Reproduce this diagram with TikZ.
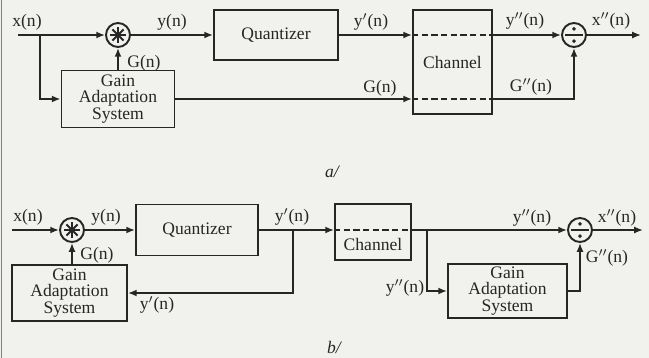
\documentclass[tikz,border=0pt]{standalone}
\usepackage{fontspec}
\setmainfont{Liberation Serif}
\usepackage{tikz}
\usetikzlibrary{arrows.meta,positioning,calc}
\definecolor{ink}{HTML}{262626}
\definecolor{paper}{HTML}{F1F1ED}
\tikzset{
  wire/.style={line width=1pt,draw=ink},
  sig/.style={wire,-{Latex[length=5pt,width=4pt]}},
  chanline/.style={wire,dash pattern=on 3.5pt off 2pt},
  blk/.style={draw=ink,line width=1.1pt,rectangle,inner sep=0pt,text=ink,align=center,
    font=\fontsize{10}{9.5}\selectfont},
  op/.style={draw=ink,line width=1.1pt,circle,minimum size=0.48cm,inner sep=0pt},
  lbl/.style={font=\fontsize{10}{10}\selectfont,inner sep=1pt,text=ink},
}
% multiplier: asterisk inside the circle
\newcommand{\mulsign}[1]{%
  \foreach \ang in {0,45,90,135}
    \draw[line width=1.2pt,ink] ($(#1)+(\ang:4.5pt)$) -- ($(#1)+(\ang+180:4.5pt)$);}
% divider: obelus inside the circle
\newcommand{\divsign}[1]{%
  \draw[line width=0.9pt,ink] ($(#1)+(-5pt,0)$) -- ($(#1)+(5pt,0)$);
  \fill[ink] ($(#1)+(0,3.5pt)$) circle (1.1pt) ($(#1)+(0,-3.5pt)$) circle (1.1pt);}

\begin{document}
\begin{tikzpicture}[x=0.02cm,y=-0.02cm]
  \fill[paper] (0,0) rectangle (649,358);
  \useasboundingbox (0,0) rectangle (649,358);
  \draw[line width=0.8pt,gray] (1.5,0) -- (1.5,358);

  % a/ : gain sent over the channel
  \node[op] (mula) at (118,35) {};
  \mulsign{mula}
  \node[blk,minimum width=2.48cm,minimum height=1cm] (qa) at (276,35) {Quantizer};
  \node[blk,minimum width=2.26cm,minimum height=1.14cm] (gasa) at (118,99) {Gain\\Adaptation\\System};
  \node[blk,minimum width=1.58cm,minimum height=2.08cm] (cha) at (452.5,62) {Channel};
  \node[op] (diva) at (574,35) {};
  \divsign{diva}
  \coordinate (ina) at (18,35);
  \coordinate (tapa) at (40,35);
  \coordinate (outa) at (641,35);

  \draw[sig] (ina) -- (mula);
  \draw[sig] (tapa) |- (gasa.west);
  \draw[sig] (gasa.north) -- (mula.south);
  \draw[sig] (mula) -- (qa);
  \draw[sig] (qa) -- (qa -| cha.west);
  \draw[sig] (gasa.east) -- (gasa.east -| cha.west);
  \draw[chanline] (qa -| cha.west) -- (qa -| cha.east);
  \draw[chanline] (gasa.east -| cha.west) -- (gasa.east -| cha.east);
  \draw[sig] (qa -| cha.east) -- (diva);
  \draw[sig] (gasa.east -| cha.east) -| (diva.south);
  \draw[sig] (diva) -- (outa);

  \node[lbl] (xa) at (27,22) {x(n)};
  \node[lbl] (ya) at (172,22) {y(n)};
  \node[lbl] (ga) at (144,63) {G(n)};
  \node[lbl] (yqa) at (371,22) {y$'$(n)};
  \node[lbl] (gta) at (380,88) {G(n)};
  \node[lbl] (yca) at (525,21) {y$''$(n)};
  \node[lbl] (xoa) at (611,21) {x$''$(n)};
  \node[lbl] (gca) at (531,87) {G$''$(n)};
  \node[lbl] (capa) at (332,172) {\itshape a/};

  % b/ : gain recomputed on both sides
  \node[op] (mulb) at (72,230) {};
  \mulsign{mulb}
  \node[blk,minimum width=2.44cm,minimum height=1.02cm] (qb) at (197,230) {Quantizer};
  \node[blk,minimum width=2.3cm,minimum height=1.12cm] (gasb) at (69.5,293) {Gain\\Adaptation\\System};
  \node[blk,minimum width=1.52cm,minimum height=1.12cm] (chb) at (373,232) {};
  \node[lbl] (chbt) at (373,244) {Channel};
  \node[op] (divb) at (580,230) {};
  \divsign{divb}
  \node[blk,minimum width=2.38cm,minimum height=1.08cm] (gasr) at (507.5,291) {Gain\\Adaptation\\System};
  \coordinate (inb) at (12,230);
  \coordinate (tapb) at (293,230);
  \coordinate (taprb) at (427,230);
  \coordinate (outb) at (643,230);

  \draw[sig] (inb) -- (mulb);
  \draw[sig] (mulb) -- (qb);
  \draw[sig] (mulb |- gasb.north) -- (mulb.south);
  \draw[sig] (qb) -- (qb -| chb.west);
  \draw[sig] (tapb) |- (gasb.east);
  \draw[chanline] (qb -| chb.west) -- (qb -| chb.east);
  \draw[sig] (qb -| chb.east) -- (divb);
  \draw[sig] (taprb) |- (gasr.west);
  \draw[sig] (gasr.east) -| (divb.south);
  \draw[sig] (divb) -- (outb);

  \node[lbl] (xb) at (28,217) {x(n)};
  \node[lbl] (yb) at (106,217) {y(n)};
  \node[lbl] (gb) at (97,255) {G(n)};
  \node[lbl] (yqb) at (292,217) {y$'$(n)};
  \node[lbl] (yfb) at (157,305) {y$'$(n)};
  \node[lbl] (ycb) at (532,218) {y$''$(n)};
  \node[lbl] (xob) at (617,218) {x$''$(n)};
  \node[lbl] (gcb) at (607,258) {G$''$(n)};
  \node[lbl] (yrb) at (405,288) {y$''$(n)};
  \node[lbl] (capb) at (334,347) {\itshape b/};
\end{tikzpicture}
\end{document}
